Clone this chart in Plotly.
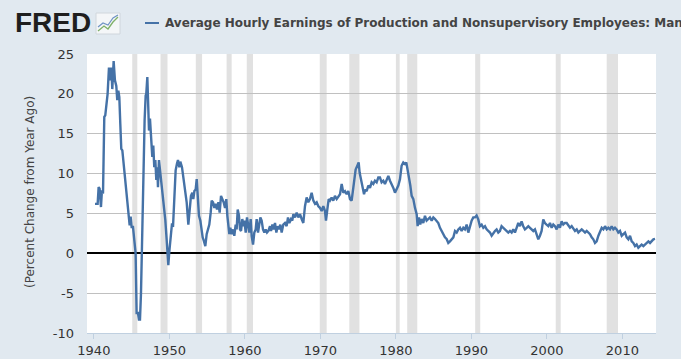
import plotly.graph_objects as go

# ---- data (decimal year, % change from year ago) ----
dates = [
    1940.15, 1940.50, 1940.63, 1940.76, 1940.94, 1941.07, 1941.21, 1941.38, 1941.51, 1941.65,
    1941.82, 1942.00, 1942.18, 1942.31, 1942.44, 1942.62, 1942.79, 1942.97, 1943.10, 1943.24,
    1943.37, 1943.50, 1943.63, 1943.77, 1943.94, 1944.16, 1944.38, 1944.61, 1944.74, 1944.87,
    1945.00, 1945.18, 1945.36, 1945.53, 1945.66, 1945.84, 1945.97, 1946.11, 1946.24, 1946.37,
    1946.59, 1946.72, 1946.86, 1946.94, 1947.08, 1947.17, 1947.30, 1947.43, 1947.56, 1947.74,
    1947.87, 1948.00, 1948.14, 1948.27, 1948.40, 1948.49, 1948.62, 1948.76, 1948.89, 1949.06,
    1949.29, 1949.46, 1949.64, 1949.77, 1949.86, 1949.99, 1950.17, 1950.35, 1950.48, 1950.66,
    1950.83, 1951.01, 1951.14, 1951.32, 1951.45, 1951.67, 1951.89, 1952.11,
    1952.29, 1952.51, 1952.69, 1952.86, 1953.04, 1953.17, 1953.31, 1953.48, 1953.62, 1953.75,
    1953.92, 1954.10, 1954.23, 1954.41, 1954.59, 1954.76, 1954.94, 1955.12, 1955.29, 1955.47,
    1955.60, 1955.78, 1955.96, 1956.13, 1956.31, 1956.49, 1956.66, 1956.84, 1957.01, 1957.19,
    1957.37, 1957.54, 1957.68, 1957.81, 1957.94, 1958.07, 1958.25, 1958.43, 1958.60, 1958.78,
    1958.91, 1959.05, 1959.22, 1959.35, 1959.49, 1959.66, 1959.80, 1959.93, 1960.11, 1960.28,
    1960.46, 1960.59, 1960.77, 1960.90, 1961.08, 1961.25, 1961.43, 1961.56, 1961.74, 1961.87,
    1962.05, 1962.22, 1962.40, 1962.58, 1962.75, 1962.93, 1963.11, 1963.33, 1963.46, 1963.64,
    1963.81, 1963.99, 1964.17, 1964.34, 1964.52, 1964.70, 1964.87, 1965.09, 1965.31,
    1965.53, 1965.71, 1965.89, 1966.11, 1966.28, 1966.42, 1966.64, 1966.86, 1967.08, 1967.30,
    1967.52, 1967.74, 1967.96, 1968.18, 1968.40, 1968.62, 1968.84, 1969.07, 1969.29, 1969.51,
    1969.73, 1969.95, 1970.17, 1970.39, 1970.61, 1970.74, 1970.92, 1971.10, 1971.27, 1971.49,
    1971.71, 1971.93, 1972.16, 1972.38, 1972.60, 1972.82, 1973.04, 1973.26, 1973.48, 1973.70,
    1973.92, 1974.14, 1974.27, 1974.45, 1974.67, 1974.89, 1975.07, 1975.20, 1975.38, 1975.60,
    1975.78, 1975.95, 1976.13, 1976.35, 1976.57, 1976.79, 1977.01, 1977.23, 1977.45, 1977.67,
    1977.89, 1978.11, 1978.33, 1978.55, 1978.78, 1979.00, 1979.22, 1979.44, 1979.66, 1979.88,
    1980.10, 1980.32, 1980.54, 1980.76, 1980.98, 1981.20, 1981.38, 1981.56, 1981.73, 1981.91,
    1982.09, 1982.31, 1982.53, 1982.75, 1982.88, 1983.06, 1983.23, 1983.41, 1983.63, 1983.85,
    1984.07, 1984.29, 1984.51, 1984.74, 1984.96, 1985.18, 1985.40, 1985.62, 1985.84, 1986.06,
    1986.28, 1986.50, 1986.72, 1986.94, 1987.16, 1987.38, 1987.61, 1987.83, 1988.05, 1988.27,
    1988.49, 1988.71, 1988.93, 1989.15, 1989.37, 1989.59, 1989.81, 1990.03, 1990.25,
    1990.47, 1990.69, 1990.91, 1991.13, 1991.36, 1991.58, 1991.80, 1992.02, 1992.24, 1992.46,
    1992.68, 1992.90, 1993.12, 1993.34, 1993.56, 1993.78, 1994.00, 1994.23, 1994.45, 1994.67,
    1994.89, 1995.11, 1995.33, 1995.55, 1995.77, 1995.99, 1996.21, 1996.43, 1996.65, 1996.87,
    1997.09, 1997.32, 1997.54, 1997.76, 1997.98, 1998.20, 1998.42, 1998.64, 1998.86, 1999.08,
    1999.30, 1999.52, 1999.74, 1999.96, 2000.19, 2000.41, 2000.63, 2000.85, 2001.07, 2001.29,
    2001.51, 2001.73, 2001.95, 2002.17, 2002.39, 2002.62,
    2002.84, 2003.06, 2003.28, 2003.50, 2003.72, 2003.95, 2004.17, 2004.39, 2004.61, 2004.83,
    2005.05, 2005.27, 2005.49, 2005.71, 2005.93, 2006.15, 2006.37, 2006.59, 2006.82, 2007.04,
    2007.26, 2007.48, 2007.70, 2007.92, 2008.14, 2008.36, 2008.58, 2008.80, 2009.02, 2009.24,
    2009.46, 2009.68, 2009.91, 2010.13, 2010.35, 2010.57, 2010.79, 2011.01, 2011.23, 2011.45,
    2011.67, 2011.89, 2012.11, 2012.33, 2012.55, 2012.78, 2013.00, 2013.22, 2013.44, 2013.66,
    2013.88, 2014.10, 2014.32,
]
pct_change = [
    6.2, 6.2, 8.3, 8.1, 5.8, 7.9, 7.5, 17.1, 17.3, 18.75,
    20.0, 23.3, 21.7, 23.3, 20.6, 24.1, 21.7, 21.0, 19.2, 20.4,
    19.6, 16.25, 13.1, 12.9, 11.25, 9.2, 7.1, 4.6, 3.5, 4.6,
    3.3, 3.3, 1.7, 0.0, -7.5, -7.5, -8.3, -8.3, -5.0, 1.7,
    12.5, 16.7, 19.8, 20.0, 22.1, 19.2, 15.4, 16.9, 14.2, 12.1,
    13.5, 10.8, 11.7, 9.2, 10.8, 8.3, 11.7, 10.4, 9.2, 8.3,
    5.8, 4.2, 1.7, 0.0, -1.5, 0.2, 1.7, 3.75, 3.3, 6.25,
    10.4, 11.25, 11.7, 10.8, 11.5, 10.8, 9.2, 7.5,
    6.4, 3.6, 5.5, 7.2, 7.6, 6.8, 7.8, 8.0, 9.3, 7.6,
    4.7, 4.1, 3.0, 2.0, 1.5, 0.9, 2.4, 3.0, 3.6, 5.1,
    6.6, 6.4, 5.7, 6.2, 5.5, 6.4, 5.1, 7.2, 6.8, 6.4,
    5.7, 6.8, 4.7, 3.8, 2.4, 3.2, 2.4, 3.0, 2.2, 3.6,
    3.0, 5.5, 4.7, 3.0, 2.8, 4.3, 3.4, 4.1, 2.6, 4.5,
    3.2, 2.6, 4.3, 2.2, 1.1, 2.6, 3.0, 4.3, 2.6, 3.4,
    4.5, 4.1, 3.0, 2.6, 3.0, 2.6, 2.8, 3.4, 2.8, 3.6,
    3.0, 3.8, 2.6, 3.4, 3.0, 3.6, 2.6, 3.6, 3.8,
    3.4, 4.5, 3.8, 4.3, 4.1, 4.9, 4.5, 5.1, 4.5, 4.9,
    4.3, 3.8, 5.9, 7.0, 6.4, 6.8, 7.6, 6.6, 6.2, 6.4,
    5.9, 5.7, 5.3, 5.9, 5.3, 4.1, 5.5, 6.8, 6.6, 7.0,
    6.6, 7.2, 6.8, 7.2, 7.4, 8.7, 7.6, 7.8, 7.4, 7.8,
    6.8, 6.6, 7.6, 9.1, 10.5, 11.0, 11.4, 10.1, 9.3, 8.5,
    7.4, 8.0, 7.8, 8.5, 8.2, 8.9, 8.7, 9.1, 8.9, 9.5,
    9.5, 8.9, 9.1, 8.7, 9.3, 9.7, 9.1, 8.7, 8.2, 7.6,
    8.0, 8.5, 9.3, 11.0, 11.4, 11.2, 11.4, 10.5, 9.3, 8.5,
    7.2, 6.8, 5.7, 4.9, 3.4, 4.5, 3.6, 4.3, 3.8, 4.7,
    4.1, 4.3, 4.5, 4.1, 4.5, 4.3, 4.1, 3.8, 3.2, 2.8,
    2.2, 2.0, 1.8, 1.3, 1.5, 1.8, 2.0, 2.8, 2.6, 3.0,
    3.2, 2.8, 3.2, 3.0, 3.6, 2.6, 3.4, 4.1, 4.5,
    4.5, 4.75, 4.25, 3.4, 3.6, 3.2, 3.4, 3.0, 2.8, 2.6,
    2.2, 2.6, 2.8, 3.0, 2.6, 2.8, 3.4, 3.2, 3.0, 2.8,
    2.6, 2.8, 2.6, 3.0, 2.6, 3.2, 3.8, 3.4, 4.0, 3.4,
    3.0, 3.2, 3.4, 3.2, 3.0, 2.8, 3.0, 2.4, 1.75, 2.2,
    2.8, 4.25, 3.8, 3.6, 3.4, 3.8, 3.2, 3.6, 3.4, 3.0,
    3.6, 3.2, 4.0, 3.6, 3.8, 3.8,
    3.4, 3.2, 3.4, 3.0, 2.8, 3.0, 2.6, 2.8, 3.0, 2.8,
    2.6, 2.8, 2.6, 2.4, 2.0, 1.75, 1.3, 1.5, 2.2, 2.8,
    3.2, 3.0, 3.4, 3.0, 3.2, 3.0, 3.4, 3.0, 3.2, 3.0,
    2.6, 2.8, 2.2, 2.4, 2.6, 2.0, 1.75, 2.2, 1.5, 1.3,
    0.9, 1.1, 0.7, 0.9, 1.1, 0.9, 1.1, 1.3, 1.5, 1.3,
    1.5, 1.75, 1.8,
]

# NBER recessions (shaded)
recession_start = [1945.08, 1948.83, 1953.50, 1957.58, 1960.25, 1969.92,
                   1973.83, 1980.00, 1981.50, 1990.50, 2001.17, 2007.92]
recession_end = [1945.75, 1949.75, 1954.33, 1958.25, 1961.08, 1970.83,
                 1975.17, 1980.50, 1982.83, 1991.17, 2001.83, 2009.42]

x_ticks = [1940, 1950, 1960, 1970, 1980, 1990, 2000, 2010]
y_ticks = [-10, -5, 0, 5, 10, 15, 20, 25]

series_title = ("Average Hourly Earnings of Production and Nonsupervisory "
                "Employees: Manufacturing")

# ---- figure ----
W, H = 681, 359
L, R, T, B = 87, 25, 54, 26
PW, PH = W - L - R, H - T - B


def px(x):
    return (x - L) / PW


def py(y):
    return (H - B - y) / PH


fig = go.Figure()
fig.add_trace(go.Scatter(
    x=dates, y=pct_change, mode="lines",
    line=dict(color="#4572a7", width=2.4),
    showlegend=False, hoverinfo="x+y",
))

shapes = []
for s, e in zip(recession_start, recession_end):
    shapes.append(dict(type="rect", xref="x", yref="paper", x0=s, x1=e, y0=0, y1=1,
                       fillcolor="#e1e1e1", line=dict(width=0), layer="below"))

# legend dash
shapes.append(dict(type="line", xref="paper", yref="paper",
                   x0=px(145), x1=px(159), y0=py(23), y1=py(23),
                   line=dict(color="#4572a7", width=2)))
# FRED icon
shapes.append(dict(type="rect", xref="paper", yref="paper",
                   x0=px(96), x1=px(120), y0=py(34), y1=py(13),
                   fillcolor="#f4f6f8", line=dict(color="#d0d6dc", width=1)))
shapes.append(dict(type="path", xref="paper", yref="paper",
                   path="M {} {} L {} {} L {} {} L {} {} L {} {}".format(
                       px(98), py(31), px(104), py(26), px(108), py(29),
                       px(113), py(22), px(118), py(17)),
                   line=dict(color="#7fb069", width=1.3)))
shapes.append(dict(type="path", xref="paper", yref="paper",
                   path="M {} {} L {} {} L {} {} L {} {} L {} {}".format(
                       px(98), py(27), px(103), py(23), px(108), py(25),
                       px(113), py(18), px(118), py(15)),
                   line=dict(color="#6f93c4", width=1.2)))

annotations = [
    dict(text="<b>FRED</b>", xref="paper", yref="paper", x=px(13), y=py(23),
         xanchor="left", yanchor="middle", showarrow=False,
         font=dict(family="Liberation Sans", size=28, color="#1e1e1e")),
    dict(text="<b>" + series_title + "</b>", xref="paper", yref="paper",
         x=px(163), y=py(23), xanchor="left", yanchor="middle", showarrow=False,
         font=dict(family="DejaVu Sans", size=12, color="#444444")),
    dict(text="(Percent Change from Year Ago)", xref="paper", yref="paper",
         x=px(30), y=py(192), xanchor="center", yanchor="middle", textangle=-90,
         showarrow=False, font=dict(family="DejaVu Sans", size=12, color="#444444")),
]

fig.update_layout(
    width=W, height=H,
    margin=dict(l=L, r=R, t=T, b=B, pad=0),
    paper_bgcolor="#e1e9f0",
    plot_bgcolor="#ffffff",
    shapes=shapes,
    annotations=annotations,
    font=dict(family="DejaVu Sans", size=13, color="#333333"),
    xaxis=dict(
        range=[1939.09, 2014.45], tickvals=x_ticks, ticktext=[str(v) for v in x_ticks],
        showgrid=False, zeroline=False, showline=True, linecolor="#c0d0e0", linewidth=1,
        ticks="outside", ticklen=5, tickcolor="#c0d0e0", automargin=False,
        tickfont=dict(family="DejaVu Sans", size=13, color="#333333"),
    ),
    yaxis=dict(
        range=[-10, 25], tickvals=y_ticks, ticktext=[str(v) for v in y_ticks],
        showgrid=True, gridcolor="#c0c0c0", gridwidth=1,
        zeroline=True, zerolinecolor="#000000", zerolinewidth=2,
        showline=False, ticks="", ticklabelstandoff=12, automargin=False,
        tickfont=dict(family="DejaVu Sans", size=13, color="#333333"),
    ),
)

fig.write_html(
    "out.html",
    config={"displayModeBar": False},
    post_script="document.body.style.margin='0';document.body.style.overflow='hidden';",
)
